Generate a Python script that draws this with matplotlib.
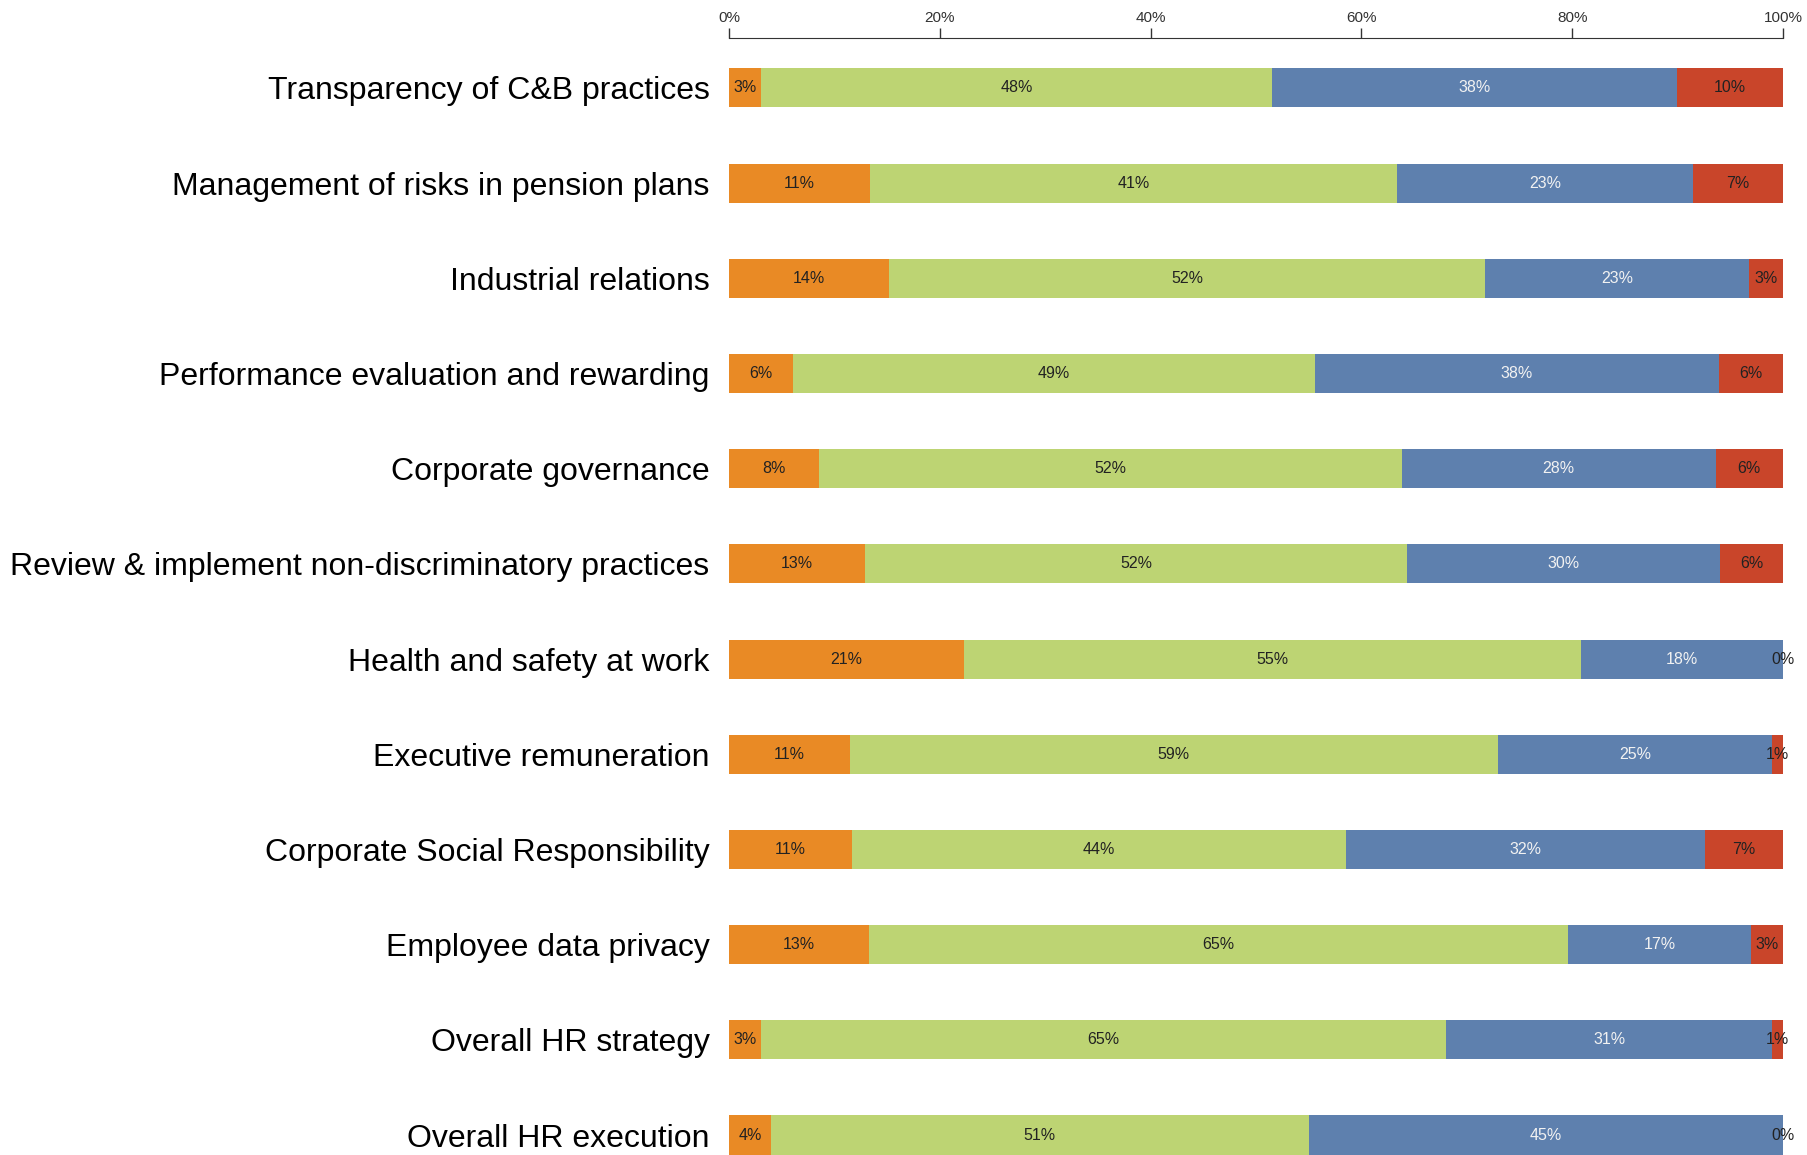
import numpy as np
import matplotlib
matplotlib.use('Agg')
import matplotlib.pyplot as plt

categories = [
    'Transparency of C&B practices',
    'Management of risks in pension plans',
    'Industrial relations',
    'Performance evaluation and rewarding',
    'Corporate governance',
    'Review & implement non-discriminatory practices',
    'Health and safety at work',
    'Executive remuneration',
    'Corporate Social Responsibility',
    'Employee data privacy',
    'Overall HR strategy',
    'Overall HR execution',
]
# shares per answer group, as printed on the bars (%)
orange = [3, 11, 14, 6, 8, 13, 21, 11, 11, 13, 3, 4]
green = [48, 41, 52, 49, 52, 52, 55, 59, 44, 65, 65, 51]
blue = [38, 23, 23, 38, 28, 30, 18, 25, 32, 17, 31, 45]
red = [10, 7, 3, 6, 6, 6, 0, 1, 7, 3, 1, 0]

series = [orange, green, blue, red]
colors = ['#E98A25', '#BDD473', '#5E80AE', '#C9452A']
text_colors = ['#222222', '#222222', '#F2F2F2', '#222222']


def main():
    W, H = 1807, 1155
    fig = plt.figure(figsize=(W / 100, H / 100), dpi=100)
    ax = fig.add_axes([729 / W, 0, (1783 - 729) / W, (H - 38) / H])

    vals = np.array(series, dtype=float)
    totals = vals.sum(axis=0)
    shares = vals / totals * 100
    y = np.arange(len(categories))

    left = np.zeros(len(categories))
    for k in range(len(series)):
        ax.barh(y, shares[k], left=left, height=0.41, color=colors[k], edgecolor='none')
        for i in range(len(categories)):
            ax.text(left[i] + shares[k][i] / 2, y[i], '%d%%' % series[k][i],
                    ha='center', va='center', fontsize=11.5, color=text_colors[k],
                    family=['Liberation Sans Narrow', 'Liberation Sans'])
        left += shares[k]

    ax.set_xlim(0, 100)
    ax.set_ylim(11.21, -0.525)
    ax.set_yticks(y)
    ax.set_yticklabels(categories, fontsize=23, family='Liberation Sans')
    ax.tick_params(axis='y', length=0, pad=14)

    ax.xaxis.tick_top()
    ax.set_xticks(np.arange(0, 101, 20))
    ax.set_xticklabels(['%d%%' % v for v in range(0, 101, 20)], fontsize=11,
                       family=['Liberation Sans Narrow', 'Liberation Sans'], color='#333333')
    ax.tick_params(axis='x', direction='out', length=7, width=1, color='#333333', pad=2)
    for s in ['bottom', 'left', 'right']:
        ax.spines[s].set_visible(False)
    ax.spines['top'].set_color('#333333')

    plt.savefig('out.png', dpi=100)


if __name__ == '__main__':
    main()
